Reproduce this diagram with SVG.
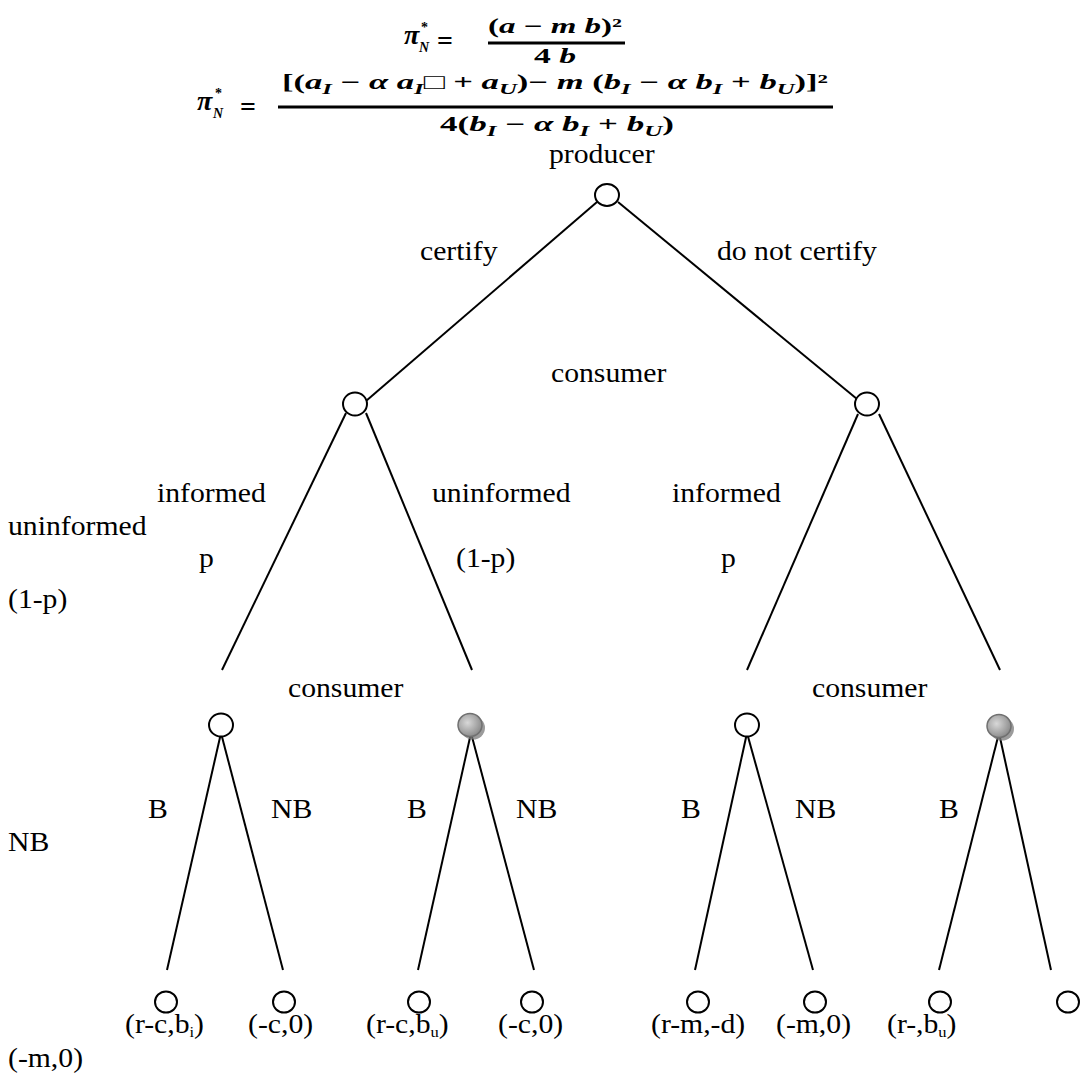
<svg xmlns="http://www.w3.org/2000/svg" width="1088" height="1074" viewBox="0 0 1088 1074">
<defs>
<radialGradient id="gr" cx="0.4" cy="0.4" r="0.6">
<stop offset="0" stop-color="#d8d8d8"/>
<stop offset="1" stop-color="#8e8e8e"/>
</radialGradient>
<style>
.t{font-family:"Liberation Serif","Times New Roman",serif;font-size:27px;fill:#000}
.f{font-family:"Liberation Serif","Times New Roman",serif;font-weight:bold;font-size:21px;fill:#000}
.fi{font-style:italic}
.sub{font-size:15px}
.fs{font-size:14px}
.eq{font-size:28px}
.ln{stroke:#000;stroke-width:2;fill:none}
.bar{stroke:#000;stroke-width:3}
.open{fill:#fff;stroke:#000;stroke-width:2}
.gray{fill:url(#gr);stroke:#707070;stroke-width:1.5}
.shadow{fill:#7a7a7a;opacity:0.75}
</style>
</defs>
<rect width="1088" height="1074" fill="#fff"/>

<g id="formula">
<text class="f fi eq" x="404" y="44">π</text>
<text class="f fi fs" x="419" y="52">N</text>
<text class="f fs" x="421" y="32">*</text>
<text class="f eq" x="437" y="50">=</text>
<line class="bar" x1="488" y1="43" x2="625" y2="43"/>
<text class="f" x="488" y="33" textLength="134" lengthAdjust="spacingAndGlyphs">(<tspan class="fi">a</tspan> − <tspan class="fi">m b</tspan>)²</text>
<text class="f" x="534" y="63" textLength="42" lengthAdjust="spacingAndGlyphs">4 <tspan class="fi">b</tspan></text>

<text class="f fi eq" x="197" y="110">π</text>
<text class="f fi fs" x="213" y="118">N</text>
<text class="f fs" x="215" y="98">*</text>
<text class="f eq" x="240" y="116">=</text>
<line class="bar" x1="278" y1="107" x2="833" y2="107"/>
<text class="f" x="282" y="89" textLength="546" lengthAdjust="spacingAndGlyphs">[(<tspan class="fi">a</tspan><tspan class="fi sub" dy="5">I</tspan><tspan dy="-5"> − </tspan><tspan class="fi">α a</tspan><tspan class="fi sub" dy="5">I</tspan><tspan dy="-5">□ + </tspan><tspan class="fi">a</tspan><tspan class="fi sub" dy="5">U</tspan><tspan dy="-5">)− </tspan><tspan class="fi">m</tspan> (<tspan class="fi">b</tspan><tspan class="fi sub" dy="5">I</tspan><tspan dy="-5"> − </tspan><tspan class="fi">α b</tspan><tspan class="fi sub" dy="5">I</tspan><tspan dy="-5"> + </tspan><tspan class="fi">b</tspan><tspan class="fi sub" dy="5">U</tspan><tspan dy="-5">)]²</tspan></text>
<text class="f" x="440" y="131" textLength="234" lengthAdjust="spacingAndGlyphs">4(<tspan class="fi">b</tspan><tspan class="fi sub" dy="5">I</tspan><tspan dy="-5"> − </tspan><tspan class="fi">α b</tspan><tspan class="fi sub" dy="5">I</tspan><tspan dy="-5"> + </tspan><tspan class="fi">b</tspan><tspan class="fi sub" dy="5">U</tspan><tspan dy="-5">)</tspan></text>
</g>

<g id="connectors">
<line class="ln" x1="597" y1="202" x2="366" y2="401"/>
<line class="ln" x1="618" y1="202" x2="857" y2="399"/>
<line class="ln" x1="346" y1="413" x2="222" y2="670"/>
<line class="ln" x1="366" y1="413" x2="472" y2="670"/>
<line class="ln" x1="858" y1="414" x2="747" y2="670"/>
<line class="ln" x1="879" y1="414" x2="1000" y2="670"/>
<line class="ln" x1="221" y1="733" x2="167" y2="970"/>
<line class="ln" x1="221" y1="733" x2="283" y2="970"/>
<line class="ln" x1="471" y1="733" x2="418" y2="970"/>
<line class="ln" x1="471" y1="733" x2="534" y2="970"/>
<line class="ln" x1="747" y1="733" x2="695" y2="970"/>
<line class="ln" x1="747" y1="733" x2="813" y2="970"/>
<line class="ln" x1="999" y1="733" x2="939" y2="970"/>
<line class="ln" x1="999" y1="733" x2="1051" y2="970"/>
</g>

<g id="n-producer"><ellipse class="open" cx="607" cy="195" rx="12" ry="11"/><text class="t" transform="translate(549,163) scale(1.1,1)">producer</text></g>
<g id="n-consumer-certify"><ellipse class="open" cx="355" cy="404" rx="12" ry="11.5"/></g>
<g id="n-consumer-notcertify"><ellipse class="open" cx="867" cy="404" rx="12" ry="11.5"/></g>
<g id="n-c-informed"><ellipse class="open" cx="221" cy="725" rx="12" ry="11.5"/></g>
<g id="n-c-uninformed"><ellipse class="shadow" cx="473" cy="728" rx="12" ry="11.5"/><ellipse class="gray" cx="470" cy="725" rx="12" ry="11.5"/></g>
<g id="n-nc-informed"><ellipse class="open" cx="747" cy="725" rx="12" ry="11.5"/></g>
<g id="n-nc-uninformed"><ellipse class="shadow" cx="1002" cy="729" rx="12" ry="11.5"/><ellipse class="gray" cx="999" cy="726" rx="12" ry="11.5"/></g>

<g id="leaf1"><ellipse class="open" cx="166" cy="1002" rx="11" ry="10.5"/><text class="t" transform="translate(125,1033) scale(1.1,1)">(r-c,b<tspan class="sub" dy="4">i</tspan><tspan dy="-4">)</tspan></text></g>
<g id="leaf2"><ellipse class="open" cx="284" cy="1002" rx="11" ry="10.5"/><text class="t" transform="translate(248,1033) scale(1.1,1)">(-c,0)</text></g>
<g id="leaf3"><ellipse class="open" cx="419" cy="1002" rx="11" ry="10.5"/><text class="t" transform="translate(366,1033) scale(1.1,1)">(r-c,b<tspan class="sub" dy="4">u</tspan><tspan dy="-4">)</tspan></text></g>
<g id="leaf4"><ellipse class="open" cx="532" cy="1002" rx="11" ry="10.5"/><text class="t" transform="translate(498,1033) scale(1.1,1)">(-c,0)</text></g>
<g id="leaf5"><ellipse class="open" cx="698" cy="1002" rx="11" ry="10.5"/><text class="t" transform="translate(651,1033) scale(1.1,1)">(r-m,-d)</text></g>
<g id="leaf6"><ellipse class="open" cx="815" cy="1002" rx="11" ry="10.5"/><text class="t" transform="translate(776,1033) scale(1.1,1)">(-m,0)</text></g>
<g id="leaf7"><ellipse class="open" cx="940" cy="1002" rx="11" ry="10.5"/><text class="t" transform="translate(887,1033) scale(1.1,1)">(r-,b<tspan class="sub" dy="4">u</tspan><tspan dy="-4">)</tspan></text></g>
<g id="leaf8"><ellipse class="open" cx="1068" cy="1002" rx="11" ry="10.5"/></g>

<g id="labels">
<text class="t" transform="translate(420,260) scale(1.1,1)">certify</text>
<text class="t" transform="translate(717,260) scale(1.1,1)">do not certify</text>
<text class="t" transform="translate(551,382) scale(1.1,1)">consumer</text>
<text class="t" transform="translate(157,502) scale(1.1,1)">informed</text>
<text class="t" transform="translate(432,502) scale(1.1,1)">uninformed</text>
<text class="t" transform="translate(672,502) scale(1.1,1)">informed</text>
<text class="t" transform="translate(8,535) scale(1.1,1)">uninformed</text>
<text class="t" transform="translate(199,567) scale(1.1,1)">p</text>
<text class="t" transform="translate(456,567) scale(1.1,1)">(1-p)</text>
<text class="t" transform="translate(721,567) scale(1.1,1)">p</text>
<text class="t" transform="translate(8,608) scale(1.1,1)">(1-p)</text>
<text class="t" transform="translate(288,697) scale(1.1,1)">consumer</text>
<text class="t" transform="translate(812,697) scale(1.1,1)">consumer</text>
<text class="t" transform="translate(148,818) scale(1.1,1)">B</text>
<text class="t" transform="translate(271,818) scale(1.1,1)">NB</text>
<text class="t" transform="translate(407,818) scale(1.1,1)">B</text>
<text class="t" transform="translate(516,818) scale(1.1,1)">NB</text>
<text class="t" transform="translate(681,818) scale(1.1,1)">B</text>
<text class="t" transform="translate(795,818) scale(1.1,1)">NB</text>
<text class="t" transform="translate(939,818) scale(1.1,1)">B</text>
<text class="t" transform="translate(8,851) scale(1.1,1)">NB</text>
<text class="t" transform="translate(8,1067) scale(1.1,1)">(-m,0)</text>
</g>
</svg>
